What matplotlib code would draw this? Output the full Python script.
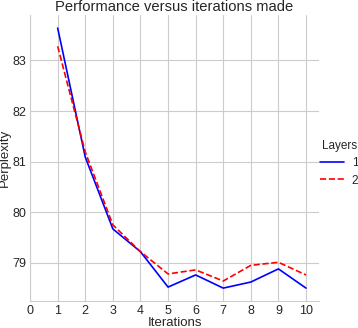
import seaborn as sns
from matplotlib import pyplot as plt

iterations = [1, 2, 3, 4, 5, 6, 7, 8, 9, 10]
layer1 = [83.64, 81.09, 79.67, 79.22, 78.52, 78.76, 78.50, 78.62, 78.88, 78.50]
layer2 = [83.28, 81.19, 79.75, 79.22, 78.78, 78.86, 78.64, 78.95, 79.01, 78.76]
xtcks = list(range(0, 11))
ytcks = [79, 80, 81, 82, 83]

sns.set_style("whitegrid")
plt.rcParams['font.family'] = ['Liberation Sans', 'DejaVu Sans']

fig = plt.figure(figsize=(3.58, 3.28), dpi=100)
ax = fig.add_axes([0.084, 0.082, 0.807, 0.872])

ax.plot(iterations, layer1, "-", color="blue", lw=1.2, label="1")
ax.plot(iterations, layer2, "--", color="red", lw=1.2, label="2")

ax.set_xlim(0, 10.47)
ax.set_xticks(xtcks)
ax.set_yticks(ytcks)
ax.tick_params(labelsize=9, length=0, pad=3)
ax.set_xlabel("Iterations", fontsize=9.5, labelpad=0)
ax.set_ylabel("Perplexity", fontsize=9.5, labelpad=1)
ax.set_title("Performance versus iterations made", fontsize=10.6, pad=3)
sns.despine(ax=ax)
for s in ["left", "bottom"]:
    ax.spines[s].set_color("#cccccc")

leg = fig.legend(title="Layers", loc="upper left", bbox_to_anchor=(320 / 358, 1 - 140 / 328),
                 frameon=False, fontsize=8.5, title_fontsize=8.5, borderpad=0,
                 handlelength=2.0, handletextpad=0.7, labelspacing=0.45,
                 borderaxespad=0)

fig.savefig("out.png", dpi=100)
